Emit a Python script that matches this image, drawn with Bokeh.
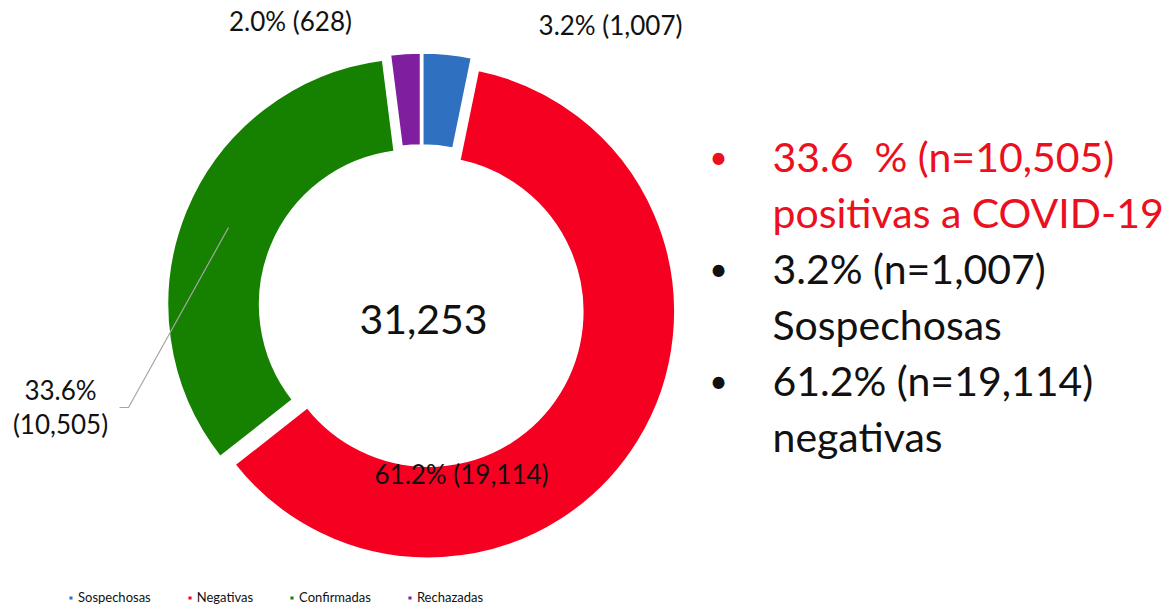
import math
from bokeh.plotting import figure
from bokeh.models import Range1d, Legend, LegendItem
from bokeh.core.properties import value
from bokeh.embed import file_html
from bokeh.resources import INLINE

# ---- data ----
categories = ["Sospechosas", "Negativas", "Confirmadas", "Rechazadas"]
counts = [1007, 19114, 10505, 628]
colors = ["#3070c0", "#f50021", "#168000", "#7f1fa0"]
slice_labels = ["3.2% (1,007)", "61.2% (19,114)", "33.6%|(10,505)", "2.0% (628)"]
total_label = "31,253"
side_lines = ["33.6 \u00a0% (n=10,505)", "positivas a COVID-19", "3.2% (n=1,007)",
              "Sospechosas", "61.2% (n=19,114)", "negativas"]
side_colors = ["#ec0f20", "#ec0f20", "#111111", "#111111", "#111111", "#111111"]
side_bullets = [True, False, True, False, True, False]

# ---- layout (screen px -> data) ----
W, H = 1166, 606
def sy(y):
    return H - y

def by(y, size):
    # baseline correction for the svg text rendering (raise by ~0.41 em)
    return sy(y - 0.41 * size)

p = figure(width=W, height=H, output_backend="svg", toolbar_location=None,
           x_range=Range1d(0, W), y_range=Range1d(0, H),
           min_border=0, x_axis_type=None, y_axis_type=None)
p.xgrid.visible = False
p.ygrid.visible = False
p.outline_line_color = None
p.background_fill_color = "white"

cx, cy = 421, sy(307)
R_out, R_in, explode = 247, 154, 8

total = sum(counts)
renderers = []
acc = 0.0
for i, c in enumerate(counts):
    f0 = acc / total
    f1 = (acc + c) / total
    acc += c
    mid = 2 * math.pi * (f0 + f1) / 2  # clockwise from top
    r = p.annular_wedge(x=cx + explode * math.sin(mid), y=cy + explode * math.cos(mid),
                        inner_radius=R_in, outer_radius=R_out,
                        start_angle=math.pi / 2 - 2 * math.pi * f1,
                        end_angle=math.pi / 2 - 2 * math.pi * f0,
                        fill_color=colors[i], line_color="white", line_width=2.5)
    renderers.append(r)

# center total
p.text(x=[cx + 2], y=[by(335, 40)], text=[total_label], text_font=value("Lato"),
       text_font_size="41px", text_align="center", text_baseline="alphabetic",
       text_color="#111111")

# slice labels
LS = 26
lab_pos = [(610, 35), (461, 484), (60, 400), (290, 31)]
for lbl, (lx, ly) in zip(slice_labels, lab_pos):
    for k, part in enumerate(lbl.split("|")):
        p.text(x=[lx], y=[by(ly + k * 34, LS)], text=[part], text_font=value("Lato"),
               text_font_size=f"{LS}px", text_align="center", text_baseline="alphabetic",
               text_color="#111111")

# leader line for Confirmadas
p.line(x=[119, 128, 228], y=[sy(407), sy(407), sy(227)], line_color="#a6a6a6", line_width=1.2)

# side text
base, step = 173, 56
for i, (t, col, b) in enumerate(zip(side_lines, side_colors, side_bullets)):
    yb = base + i * step
    p.text(x=[772], y=[by(yb, 41)], text=[t], text_font=value("Lato"), text_font_size="41px",
           text_align="left", text_baseline="alphabetic", text_color=col)
    if b:
        p.text(x=[718], y=[by(yb - 4, 32)], text=["\u2022"], text_font=value("Lato"),
               text_font_size="32px", text_align="center", text_baseline="alphabetic",
               text_color=col)

legend = Legend(items=[LegendItem(label=categories[i], renderers=[renderers[i]]) for i in range(4)],
                orientation="horizontal", location=(67, 1), glyph_width=7, glyph_height=7,
                label_text_font="Lato", label_text_font_size="13px", label_standoff=4,
                spacing=35, padding=0, margin=0, border_line_color=None,
                background_fill_alpha=0, label_text_color="#111111")
p.add_layout(legend)

open("out.html", "w").write(file_html(p, INLINE))
